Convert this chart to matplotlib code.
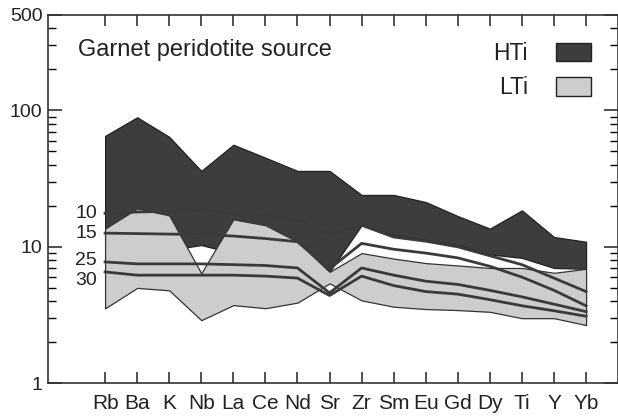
import matplotlib
matplotlib.use('Agg')
import matplotlib.pyplot as plt
from matplotlib.patches import Patch
from matplotlib.ticker import FixedLocator, NullFormatter
import numpy as np

plt.rcParams['font.family'] = ['Liberation Sans', 'DejaVu Sans']

# element order on the spider diagram
elements = ['Rb', 'Ba', 'K', 'Nb', 'La', 'Ce', 'Nd', 'Sr', 'Zr', 'Sm', 'Eu', 'Gd', 'Dy', 'Ti', 'Y', 'Yb']

# HTi field (upper / lower envelope)
hti_top = [65, 89, 64, 36, 56, 45, 36, 36, 24, 24, 21.3, 16.8, 13.6, 18.5, 11.8, 10.9]
hti_bot = [10, 10, 9.5, 10.3, 9, 9.5, 10.5, 6.55, 14.4, 12.2, 11.2, 10.3, 8.8, 8.3, 7.0, 6.9]

# LTi field
lti_top = [13.6, 19.1, 17.0, 6.4, 15.9, 14.4, 10.9, 6.55, 9.0, 8.2, 7.6, 7.3, 7.0, 7.0, 6.45, 6.9]
lti_bot = [3.54, 5.0, 4.8, 2.9, 3.74, 3.55, 3.9, 5.4, 4.05, 3.64, 3.5, 3.44, 3.34, 3.0, 3.0, 2.67]

# melting curves (degree of melting, %)
melt_labels = ['10', '15', '25', '30']
c10 = [17.6, 18.0, 18.2, 18.6, 17.6, 16.6, 15.6, 12.2, 14.4, 11.8, 11.0, 10.0, 8.6, 7.4, 5.9, 4.7]
c15 = [12.6, 12.5, 12.4, 12.3, 12.0, 11.5, 10.9, 6.9, 10.6, 9.6, 9.0, 8.3, 7.2, 6.0, 4.8, 3.7]
c25 = [7.75, 7.5, 7.5, 7.5, 7.4, 7.3, 7.0, 4.6, 7.0, 6.2, 5.6, 5.3, 4.8, 4.3, 3.8, 3.35]
c30 = [6.55, 6.2, 6.2, 6.2, 6.2, 6.1, 5.9, 4.4, 6.1, 5.2, 4.7, 4.5, 4.1, 3.7, 3.4, 3.1]
curves = [c10, c15, c25, c30]

dark = '#3d3d3d'
light = '#cdcdcd'
x = np.arange(len(elements))

fig = plt.figure(figsize=(6.18, 4.2), dpi=100)
ax = fig.add_axes([0.0777, 0.0874, 0.9215, 0.8769])

ax.fill_between(x, hti_bot, hti_top, facecolor=dark, edgecolor='#222222', lw=0.9, zorder=1)
ax.fill_between(x, lti_bot, lti_top, facecolor=light, edgecolor='#333333', lw=0.9, zorder=2)
for c in curves:
    ax.plot(x, c, color='#3a3a3a', lw=2.0, zorder=3)

# curve labels on the left
offs = [0, 0, 1, -6]
for lab, c, dy in zip(melt_labels, curves, offs):
    ax.annotate(lab, (0, c[0]), xytext=(-6, dy), textcoords='offset points',
                ha='right', va='center', fontsize=14, color='#222222')

ax.set_yscale('log')
ax.set_ylim(1, 500)
ax.set_xlim(-1.78, 15.98)

ax.yaxis.set_major_locator(FixedLocator([1, 10, 100, 500]))
ax.set_yticklabels(['1', '10', '100', '500'])
minors = [v * d for d in (1, 10, 100) for v in range(2, 10) if v * d < 500]
ax.yaxis.set_minor_locator(FixedLocator(minors))
ax.yaxis.set_minor_formatter(NullFormatter())

ax.set_xticks(x)
ax.set_xticklabels(elements)

ax.tick_params(axis='y', which='major', direction='in', length=10, width=1.1,
               left=True, right=True, labelsize=14, pad=4, colors='#222222')
ax.tick_params(axis='y', which='minor', direction='in', length=6, width=1.0,
               left=True, right=True)
ax.tick_params(axis='x', which='major', direction='in', length=8, width=1.1,
               top=True, bottom=True, labelsize=15, pad=8, colors='#222222')
for s in ax.spines.values():
    s.set_linewidth(1.2)
    s.set_color('#333333')

ax.text(0.053, 0.889, 'Garnet peridotite source', transform=ax.transAxes,
        fontsize=17, color='#222222', va='baseline', ha='left')

handles = [Patch(facecolor=dark, edgecolor='#222222', lw=1.0),
           Patch(facecolor=light, edgecolor='#222222', lw=1.0)]
ax.legend(handles, ['HTi', 'LTi'], loc='upper right', bbox_to_anchor=(0.9535, 0.927),
          markerfirst=False, frameon=False, fontsize=16.5, handlelength=1.55,
          handleheight=0.85, handletextpad=1.2, labelspacing=0.5,
          borderpad=0, borderaxespad=0, labelcolor='#222222')

fig.savefig('out.png', dpi=100)
